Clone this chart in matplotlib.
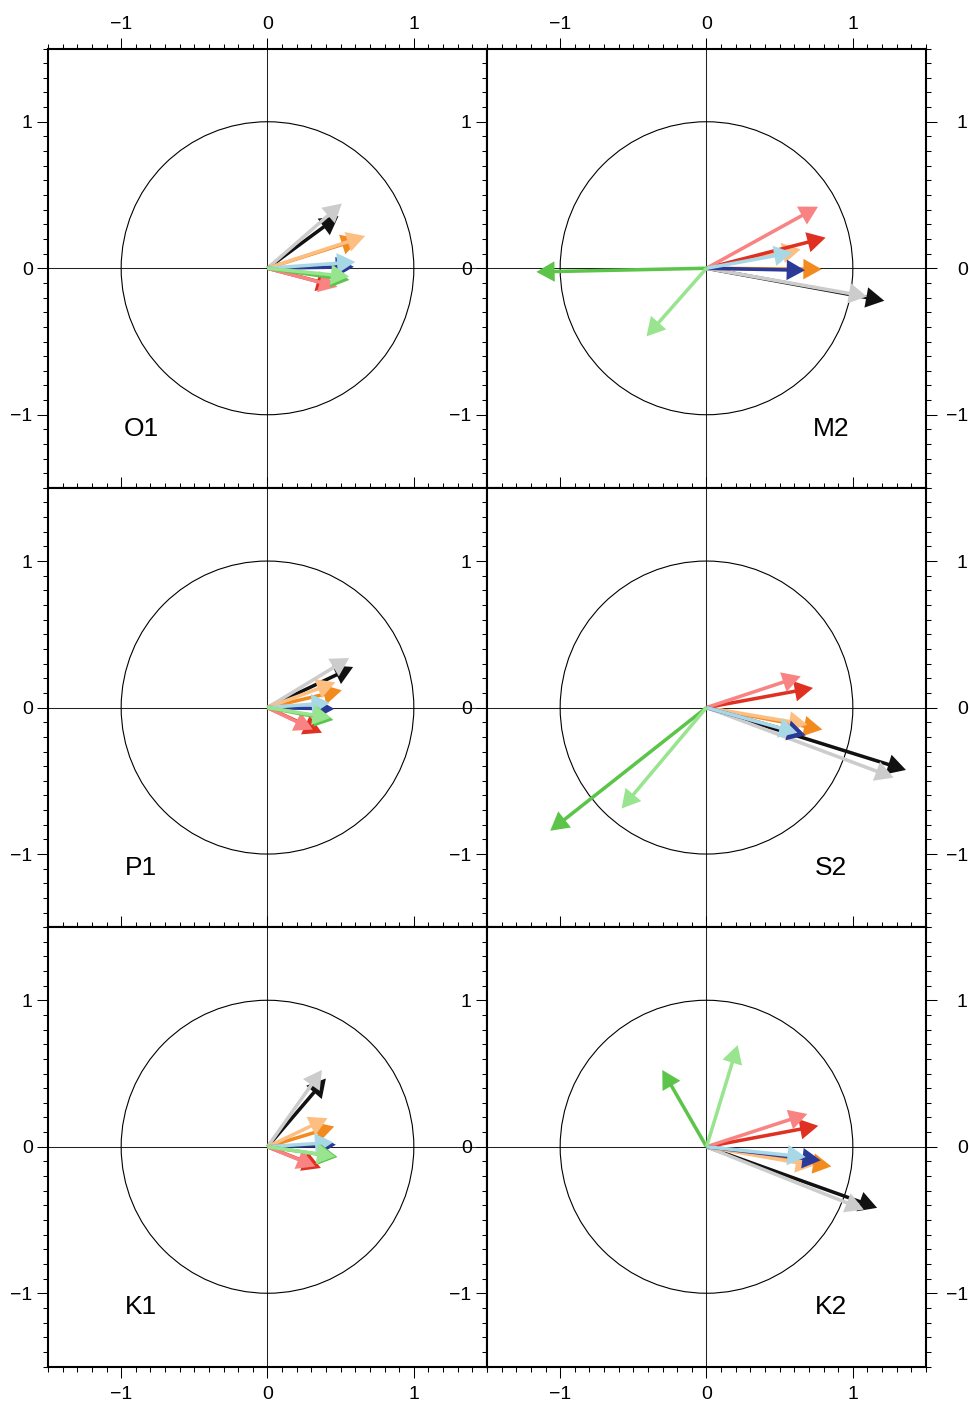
import numpy as np
import matplotlib.pyplot as plt
from matplotlib.patches import Circle
from matplotlib.ticker import MultipleLocator
from matplotlib.transforms import ScaledTranslation

plt.rcParams['font.family'] = ['Liberation Sans', 'DejaVu Sans']

# Colours of the ten vectors, in drawing order (light shade over dark)
colours = ['#111111', '#cccccc',   # black / grey
           '#f28a1e', '#fdbe82',   # orange / light orange
           '#df3022', '#f98282',   # red / pink
           '#2a3a96', '#a8d8e6',   # blue / light blue
           '#5cc449', '#98e48f']   # green / light green

# Vector components (u, v) for each constituent, same order as colours
O1_u = [0.485, 0.508, 0.63, 0.667, 0.46, 0.478, 0.59, 0.60, 0.56, 0.558]
O1_v = [0.356, 0.442, 0.20, 0.22, -0.12, -0.127, 0.01, 0.043, -0.08, -0.057]

M2_u = [1.215, 1.097, 0.787, 0.644, 0.814, 0.762, 0.673, 0.587, -1.163, -0.41]
M2_v = [-0.222, -0.193, -0.007, 0.129, 0.209, 0.42, -0.014, 0.107, -0.025, -0.465]

P1_u = [0.585, 0.558, 0.508, 0.463, 0.372, 0.31, 0.456, 0.426, 0.45, 0.433]
P1_v = [0.277, 0.338, 0.118, 0.172, -0.172, -0.15, -0.009, 0.032, -0.085, -0.07]

S2_u = [1.363, 1.279, 0.791, 0.689, 0.728, 0.644, 0.678, 0.621, -1.068, -0.58]
S2_v = [-0.426, -0.478, -0.15, -0.116, 0.134, 0.213, -0.19, -0.172, -0.841, -0.689]

K1_u = [0.399, 0.372, 0.456, 0.41, 0.365, 0.327, 0.467, 0.449, 0.478, 0.463]
K1_v = [0.466, 0.524, 0.138, 0.195, -0.145, -0.134, 0.014, 0.03, -0.07, -0.066]

K2_u = [1.166, 1.075, 0.853, 0.735, 0.764, 0.689, 0.78, 0.678, -0.302, 0.213]
K2_v = [-0.417, -0.429, -0.134, -0.129, 0.143, 0.224, -0.093, -0.07, 0.524, 0.694]

panels = [('O1', O1_u, O1_v), ('M2', M2_u, M2_v),
          ('P1', P1_u, P1_v), ('S2', S2_u, S2_v),
          ('K1', K1_u, K1_v), ('K2', K2_u, K2_v)]

W, H = 970, 1404
fig = plt.figure(figsize=(W / 100, H / 100), dpi=100)

left_px = [48, 487]
top_px = [48.5, 487.8, 927.0]
size_w, size_h = 439, 439.5

for i, (name, u, v) in enumerate(panels):
    row, col = divmod(i, 2)
    x0 = left_px[col] / W
    y0 = 1 - (top_px[row] + size_h) / H
    ax = fig.add_axes([x0, y0, size_w / W, size_h / H])
    ax.set_xlim(-1.5, 1.5)
    ax.set_ylim(-1.5, 1.5)

    ax.axhline(0, color='#222222', lw=0.75, zorder=1)
    ax.axvline(0, color='#222222', lw=0.75, zorder=1)
    ax.add_patch(Circle((0, 0), 1, fill=False, ec='black', lw=0.8, zorder=1))

    for k in range(len(u)):
        ax.arrow(0, 0, u[k], v[k], width=0.024, head_width=0.14,
                 head_length=0.125, length_includes_head=True,
                 fc=colours[k], ec='none', lw=0, zorder=3 + k)

    lx = -0.865 if col == 0 else 0.85
    ax.text(lx, -1.095, name, fontsize=19, ha='center', va='center')

    for axis in (ax.xaxis, ax.yaxis):
        axis.set_major_locator(MultipleLocator(1))
        axis.set_minor_locator(MultipleLocator(0.1))
    ax.tick_params(which='both', direction='out', top=True, bottom=True,
                   left=True, right=True, width=0.75, labelsize=14)
    ax.tick_params(which='major', length=8)
    ax.tick_params(which='minor', length=3.6)
    ax.tick_params(axis='x', pad=6, labeltop=(row == 0), labelbottom=True)
    ax.tick_params(axis='y', pad=3, labelleft=True, labelright=(col == 1))
    for s in ax.spines.values():
        s.set_linewidth(1.5)

    # right-hand labels are right-aligned, top labels sit a bit lower
    if col == 1:
        shift = ScaledTranslation(0.265, 0, fig.dpi_scale_trans)
        for t in ax.yaxis.get_major_ticks():
            t.label2.set_horizontalalignment('right')
            t.label2.set_transform(t.label2.get_transform() + shift)
    if row == 0:
        down = ScaledTranslation(0, -0.04, fig.dpi_scale_trans)
        for t in ax.xaxis.get_major_ticks():
            t.label2.set_transform(t.label2.get_transform() + down)

fig.savefig('out.png', dpi=100)
